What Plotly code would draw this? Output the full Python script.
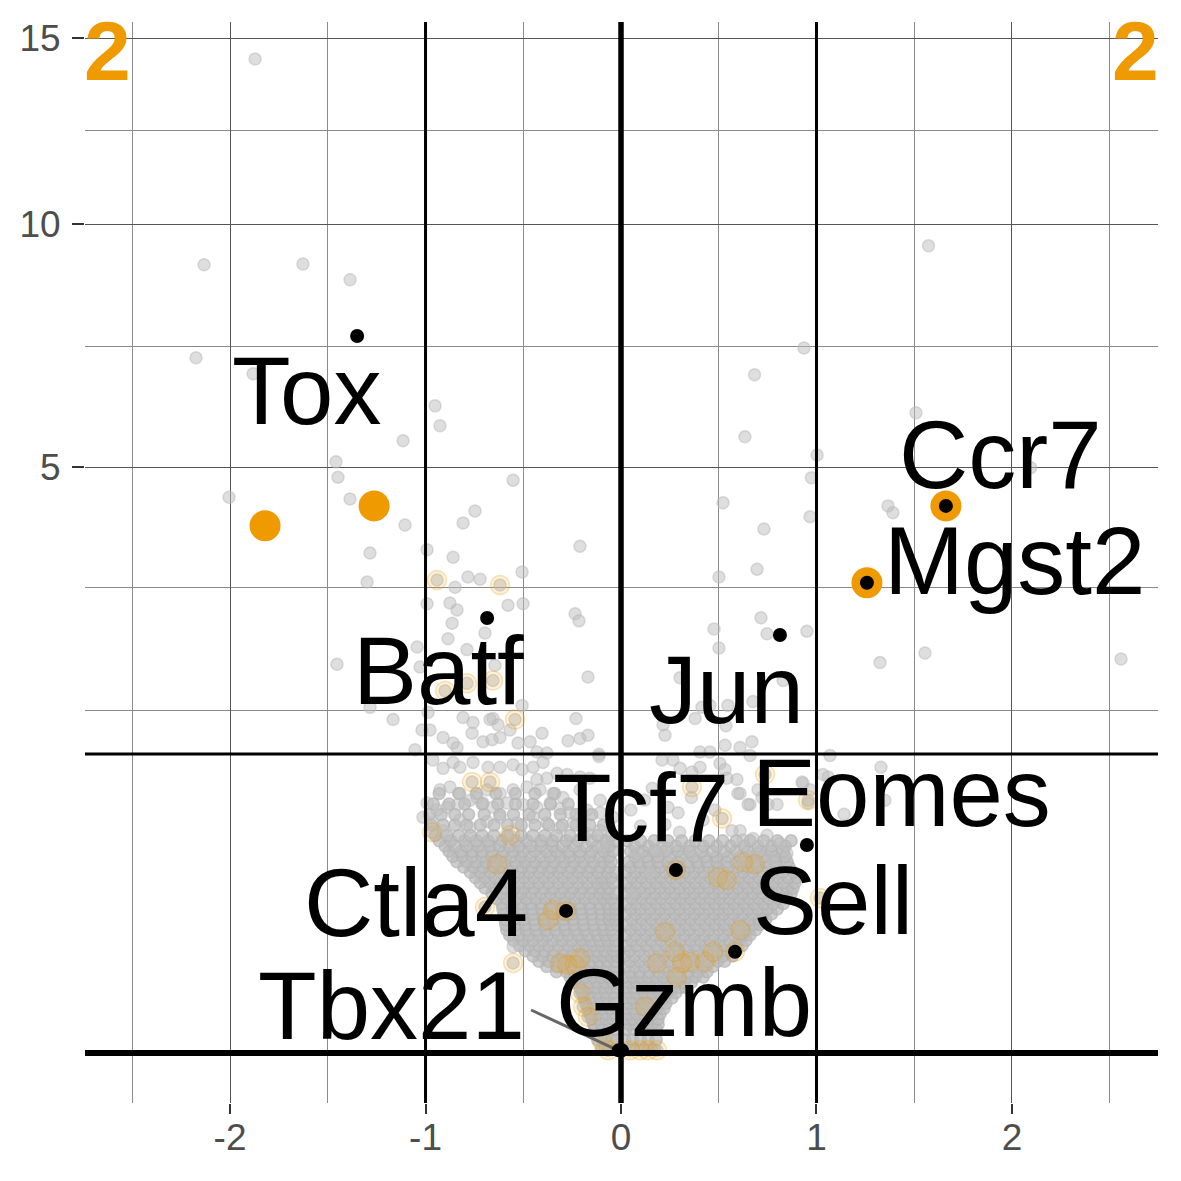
import numpy as np
import plotly.graph_objects as go

# ---------------- data (log2 fold change, -log10 p) ----------------
threshold_nlp = 1.30103

gray_sparse = [
    (-1.872, 14.39), (-2.133, 9.05), (-1.627, 9.07), (-1.386, 8.71), (-2.174, 7.04), (-1.882, 6.72),
    (-0.951, 6.10), (-0.926, 5.73), (-1.115, 5.46), (-1.458, 5.09), (-1.448, 4.83), (-2.005, 4.50),
    (-1.386, 4.47), (-1.105, 4.06), (-0.552, 4.78), (-0.747, 4.28), (-0.808, 4.09), (-1.284, 3.64),
    (-1.299, 3.23), (-0.992, 3.69), (-0.859, 3.58), (-0.210, 3.74), (-0.506, 3.37), (-0.783, 3.30),
    (-0.721, 3.27), (-0.849, 3.16), (-0.992, 2.94), (-0.875, 2.95), (-0.839, 2.86), (-0.578, 2.92),
    (-0.501, 2.94), (-0.235, 2.81), (-0.215, 2.72), (-0.864, 2.69), (-0.696, 2.57), (-0.885, 2.50),
    (-1.043, 2.40), (-1.453, 2.20), (-0.788, 2.37), (-0.645, 2.19), (-0.169, 2.06), (-1.028, 2.17),
    (-1.284, 1.74), (-1.166, 1.62), (-1.018, 1.52), (-0.987, 1.69), (-0.808, 1.64), (-0.757, 1.59),
    (-0.655, 1.63), (-0.506, 1.76), (-0.404, 1.49), (-0.230, 1.63), (-0.271, 1.42), (-0.210, 1.44),
    (-0.169, 1.47), (-0.113, 1.30), (-1.054, 1.34), (-0.910, 1.45), (-0.839, 1.36), (-0.706, 1.41),
    (-0.619, 1.45), (-0.465, 1.41), (-0.430, 1.32), (-0.379, 1.31), (-0.977, 1.52), (-0.762, 1.49),
    (-0.670, 1.62), (-0.629, 1.57), (-0.660, 1.43), (-0.568, 1.52), (-0.859, 1.40), (-0.527, 1.40),
    (-0.113, 1.28),
    (-0.962, 1.25), (-0.910, 1.18), (-0.859, 1.23), (-0.824, 1.19), (-0.757, 1.23), (-0.680, 1.19),
    (-0.619, 1.19), (-0.552, 1.21), (-0.506, 1.17), (-0.450, 1.19), (-0.399, 1.23), (-0.430, 1.09),
    (-0.379, 1.10), (-0.327, 1.14), (-0.276, 1.13), (-0.210, 1.11), (-0.159, 1.10),
    (-0.926, 1.01), (-0.875, 1.03), (-0.824, 0.98), (-0.737, 0.95), (-0.685, 1.01), (-0.619, 0.98),
    (-0.552, 1.01), (-0.481, 1.03), (-0.414, 1.01), (-0.348, 0.98), (-0.297, 0.95), (-0.210, 1.01),
    (-0.107, 0.93),
    (-0.992, 0.91), (-0.941, 0.86), (-0.890, 0.88), (-0.834, 0.90), (-0.772, 0.93), (-0.706, 0.91),
    (-0.655, 0.88), (-0.583, 0.91), (-0.501, 0.90), (-0.430, 0.88), (-0.363, 0.91), (-0.312, 0.87),
    (-0.261, 0.84), (-0.174, 0.86), (-0.107, 0.84), (-0.041, 0.81),
    (-1.013, 0.81), (-0.962, 0.77), (-0.910, 0.72), (-0.824, 0.79), (-0.772, 0.74), (-0.685, 0.78),
    (-0.619, 0.81), (-0.532, 0.77), (-0.450, 0.81), (-0.379, 0.77), (-0.312, 0.74), (-0.246, 0.77),
    (-0.174, 0.70), (-0.107, 0.72), (-0.072, 0.64), (-0.092, 0.62), (-0.552, 0.164),
    (1.573, 9.49), (0.936, 7.24), (0.683, 6.70), (1.509, 5.97), (0.634, 5.53), (1.003, 5.21),
    (0.974, 4.82), (2.096, 4.99), (0.522, 4.41), (1.366, 4.36), (1.391, 4.25), (0.967, 4.19),
    (0.731, 4.00), (0.696, 3.41), (0.501, 3.30), (0.716, 2.76), (0.476, 2.62), (0.747, 2.56),
    (0.951, 2.59), (0.501, 2.39), (1.555, 2.33), (1.325, 2.22), (2.558, 2.26),
    (0.302, 2.05), (0.829, 2.02), (0.675, 1.80), (0.414, 1.74), (0.547, 1.76), (0.455, 1.76),
    (0.379, 1.63), (0.215, 1.57), (0.225, 1.47), (0.537, 1.56), (0.670, 1.41), (0.609, 1.36),
    (0.532, 1.38), (0.404, 1.32), (0.455, 1.32), (1.069, 1.29), (0.210, 1.25), (0.266, 1.25),
    (0.302, 1.18), (0.363, 1.15), (0.404, 1.19), (0.506, 1.22), (0.532, 1.17), (0.542, 1.10),
    (0.593, 1.09), (0.660, 1.29), (0.598, 0.98), (0.660, 0.90), (0.752, 0.90), (0.798, 0.90),
    (0.701, 1.01), (0.721, 0.95), (0.931, 1.06), (0.967, 1.01), (0.957, 0.91), (1.059, 1.11),
    (0.240, 0.88), (0.292, 0.84), (0.225, 0.76), (1.141, 0.83), (1.350, 0.93), (1.330, 1.19),
    (1.033, 1.13), (0.926, 1.07), (0.609, 0.98), (0.650, 0.90),
    (0.609, 0.72), (0.675, 0.67), (0.747, 0.69), (0.813, 0.64), (0.849, 0.58), (0.777, 0.54),
    (0.696, 0.58), (0.624, 0.66), (0.568, 0.72), (0.087, 0.58), (0.184, 0.59), (0.353, 0.59),
    (0.174, 0.60), (0.235, 0.61), (0.148, 0.47), (0.061, 0.37), (0.12, 0.93), (0.05, 0.86),
    (0.16, 1.02), (0.10, 0.75), (0.42, 0.79), (0.48, 0.86), (0.36, 0.95), (0.30, 0.71),
]

# dense centre of the volcano: (-log10 p, [log2FC ...]) read row by row
gray_cluster_left = [
    (0.0002, [-0.10, -0.065, -0.03]),
    (0.0025, [-0.12, -0.085, -0.05, -0.02]),
    (0.0081, [-0.135, -0.10, -0.062, -0.03]),
    (0.0121, [-0.14, -0.10, -0.06, -0.02]),
    (0.0169, [-0.15, -0.11, -0.077, -0.04]),
    (0.0225, [-0.16, -0.12, -0.08, -0.04]),
    (0.0289, [-0.17, -0.13, -0.09, -0.055, -0.02]),
    (0.0361, [-0.18, -0.14, -0.10, -0.06, -0.03]),
    (0.0441, [-0.19, -0.15, -0.11, -0.072, -0.035]),
    (0.0529, [-0.20, -0.16, -0.12, -0.08, -0.04]),
    (0.0625, [-0.21, -0.17, -0.13, -0.09, -0.055, -0.02]),
    (0.0729, [-0.24, -0.20, -0.16, -0.12, -0.08, -0.04]),
    (0.0841, [-0.26, -0.22, -0.18, -0.14, -0.10, -0.06, -0.03]),
    (0.0961, [-0.33, -0.28, -0.24, -0.20, -0.16, -0.12, -0.08, -0.04]),
    (0.1089, [-0.38, -0.33, -0.285, -0.23, -0.19, -0.15, -0.11, -0.07, -0.03]),
    (0.1225, [-0.42, -0.37, -0.32, -0.27, -0.23, -0.19, -0.15, -0.11, -0.07, -0.03]),
    (0.1369, [-0.45, -0.40, -0.35, -0.30, -0.255, -0.21, -0.17, -0.13, -0.09, -0.05, -0.02]),
    (0.1521, [-0.49, -0.44, -0.39, -0.34, -0.29, -0.245, -0.20, -0.16, -0.12, -0.08, -0.04]),
    (0.1681, [-0.52, -0.47, -0.42, -0.37, -0.32, -0.27, -0.22, -0.18, -0.14, -0.10, -0.06, -0.03]),
    (0.1849, [-0.55, -0.50, -0.45, -0.40, -0.35, -0.30, -0.25, -0.20, -0.155, -0.11, -0.07, -0.03]),
    (0.2025, [-0.57, -0.52, -0.47, -0.42, -0.375, -0.32, -0.27, -0.22, -0.17, -0.12, -0.08, -0.04]),
    (0.2209, [-0.585, -0.535, -0.485, -0.435, -0.385, -0.335, -0.285, -0.235, -0.185, -0.135, -0.09, -0.05]),
    (0.2401, [-0.59, -0.54, -0.49, -0.44, -0.39, -0.34, -0.29, -0.24, -0.19, -0.14, -0.09, -0.05, -0.02]),
    (0.2601, [-0.595, -0.545, -0.495, -0.445, -0.395, -0.345, -0.295, -0.245, -0.195, -0.145, -0.10, -0.06, -0.03]),
    (0.2809, [-0.60, -0.55, -0.505, -0.45, -0.40, -0.35, -0.30, -0.25, -0.20, -0.15, -0.10, -0.06, -0.03]),
    (0.3025, [-0.605, -0.555, -0.505, -0.455, -0.405, -0.355, -0.305, -0.255, -0.205, -0.155, -0.105, -0.06, -0.03]),
    (0.3249, [-0.61, -0.56, -0.51, -0.46, -0.41, -0.36, -0.31, -0.26, -0.21, -0.16, -0.11, -0.07, -0.03]),
    (0.3481, [-0.635, -0.585, -0.535, -0.485, -0.435, -0.385, -0.335, -0.285, -0.235, -0.185, -0.135, -0.09, -0.05]),
    (0.3721, [-0.66, -0.61, -0.56, -0.51, -0.46, -0.41, -0.36, -0.31, -0.26, -0.21, -0.16, -0.11, -0.07, -0.03]),
    (0.3969, [-0.695, -0.645, -0.595, -0.545, -0.495, -0.445, -0.395, -0.345, -0.295, -0.245, -0.195, -0.145, -0.10, -0.06]),
    (0.4225, [-0.72, -0.67, -0.62, -0.57, -0.52, -0.47, -0.42, -0.37, -0.32, -0.27, -0.22, -0.17, -0.12, -0.08, -0.04]),
    (0.4489, [-0.745, -0.695, -0.645, -0.595, -0.545, -0.495, -0.445, -0.395, -0.345, -0.295, -0.245, -0.195, -0.145, -0.10, -0.05]),
    (0.4761, [-0.77, -0.72, -0.67, -0.62, -0.57, -0.52, -0.47, -0.42, -0.37, -0.32, -0.27, -0.22, -0.17, -0.12, -0.07, -0.03]),
    (0.5041, [-0.805, -0.755, -0.705, -0.655, -0.605, -0.555, -0.505, -0.455, -0.405, -0.355, -0.305, -0.255, -0.205, -0.155, -0.105, -0.06]),
    (0.5329, [-0.84, -0.79, -0.74, -0.69, -0.64, -0.59, -0.54, -0.49, -0.44, -0.39, -0.34, -0.29, -0.24, -0.19, -0.14, -0.09, -0.05]),
    (0.5625, [-0.86, -0.81, -0.76, -0.71, -0.66, -0.61, -0.56, -0.51, -0.46, -0.41, -0.36, -0.31, -0.26, -0.21, -0.16, -0.11, -0.06]),
    (0.5929, [-0.88, -0.82, -0.76, -0.71, -0.66, -0.60, -0.55, -0.50, -0.44, -0.38, -0.33, -0.27, -0.21, -0.15, -0.09, -0.04]),
    (0.6241, [-0.90, -0.85, -0.79, -0.73, -0.67, -0.62, -0.57, -0.52, -0.46, -0.41, -0.35, -0.30, -0.24, -0.18, -0.12, -0.06]),
    (0.6561, [-0.93, -0.87, -0.80, -0.74, -0.68, -0.61, -0.54, -0.48, -0.41, -0.35, -0.28, -0.22, -0.15, -0.08, -0.03]),
    (0.6889, [-0.95, -0.89, -0.83, -0.77, -0.71, -0.65, -0.58, -0.51, -0.45, -0.39, -0.33, -0.26, -0.19, -0.12, -0.05]),
    (0.7569, [-0.97, -0.91, -0.85, -0.79, -0.72, -0.65, -0.58, -0.51, -0.44, -0.37, -0.30, -0.23, -0.16, -0.09]),
    (0.8281, [-0.98, -0.92, -0.85, -0.78, -0.70, -0.62, -0.55, -0.47, -0.39, -0.31, -0.23, -0.15]),
    (0.9025, [-0.96, -0.88, -0.80, -0.71, -0.63, -0.54, -0.45, -0.36, -0.27]),
    (0.9800, [-0.93, -0.83, -0.74, -0.64, -0.54, -0.44, -0.34]),
]

gray_cluster_right = [
    (0.0002, [0.02, 0.06, 0.10, 0.14, 0.17]),
    (0.0025, [0.02, 0.06, 0.10, 0.14, 0.18]),
    (0.0081, [0.025, 0.065, 0.105, 0.145, 0.18]),
    (0.0121, [0.04, 0.08, 0.12, 0.16, 0.19]),
    (0.0169, [0.02, 0.06, 0.10, 0.14, 0.19]),
    (0.0225, [0.04, 0.08, 0.12, 0.16, 0.20]),
    (0.0289, [0.025, 0.065, 0.105, 0.145, 0.185, 0.22]),
    (0.0361, [0.04, 0.08, 0.12, 0.16, 0.20, 0.23]),
    (0.0441, [0.02, 0.06, 0.10, 0.14, 0.18, 0.22, 0.26]),
    (0.0529, [0.04, 0.08, 0.12, 0.16, 0.20, 0.24, 0.28]),
    (0.0625, [0.025, 0.065, 0.105, 0.145, 0.185, 0.225, 0.265, 0.30, 0.33]),
    (0.0729, [0.04, 0.08, 0.12, 0.16, 0.20, 0.24, 0.28, 0.32, 0.36]),
    (0.0841, [0.02, 0.06, 0.10, 0.14, 0.18, 0.22, 0.26, 0.30, 0.34, 0.38, 0.42]),
    (0.0961, [0.045, 0.095, 0.145, 0.195, 0.245, 0.295, 0.345, 0.395, 0.44]),
    (0.1089, [0.025, 0.07, 0.12, 0.17, 0.22, 0.27, 0.32, 0.37, 0.42, 0.47]),
    (0.1225, [0.045, 0.095, 0.145, 0.195, 0.245, 0.295, 0.345, 0.395, 0.445, 0.495, 0.53]),
    (0.1369, [0.02, 0.07, 0.12, 0.17, 0.22, 0.27, 0.32, 0.37, 0.42, 0.47, 0.52, 0.57]),
    (0.1521, [0.045, 0.095, 0.145, 0.195, 0.245, 0.295, 0.345, 0.395, 0.445, 0.495, 0.545, 0.59]),
    (0.1681, [0.03, 0.08, 0.13, 0.18, 0.23, 0.28, 0.33, 0.38, 0.43, 0.48, 0.53, 0.58, 0.62]),
    (0.1849, [0.055, 0.105, 0.155, 0.205, 0.255, 0.305, 0.355, 0.405, 0.455, 0.505, 0.555, 0.605, 0.64]),
    (0.2025, [0.025, 0.075, 0.125, 0.175, 0.225, 0.275, 0.325, 0.375, 0.425, 0.475, 0.525, 0.575, 0.625, 0.66]),
    (0.2209, [0.05, 0.10, 0.15, 0.20, 0.25, 0.30, 0.35, 0.40, 0.45, 0.50, 0.55, 0.60, 0.65, 0.69]),
    (0.2401, [0.03, 0.08, 0.13, 0.18, 0.23, 0.28, 0.33, 0.38, 0.43, 0.48, 0.53, 0.58, 0.63, 0.68, 0.71]),
    (0.2601, [0.055, 0.105, 0.155, 0.205, 0.255, 0.305, 0.355, 0.405, 0.455, 0.505, 0.555, 0.605, 0.655, 0.705, 0.74]),
    (0.2809, [0.025, 0.075, 0.125, 0.175, 0.225, 0.275, 0.325, 0.375, 0.425, 0.475, 0.525, 0.575, 0.625, 0.675, 0.725, 0.77]),
    (0.3025, [0.05, 0.10, 0.15, 0.20, 0.25, 0.30, 0.35, 0.40, 0.45, 0.50, 0.55, 0.60, 0.65, 0.70, 0.75, 0.80]),
    (0.3249, [0.03, 0.08, 0.13, 0.18, 0.23, 0.28, 0.33, 0.38, 0.43, 0.48, 0.53, 0.58, 0.63, 0.68, 0.73, 0.78, 0.83]),
    (0.3481, [0.055, 0.105, 0.155, 0.205, 0.255, 0.305, 0.355, 0.405, 0.455, 0.505, 0.555, 0.605, 0.655, 0.705, 0.755, 0.805, 0.85]),
    (0.3721, [0.025, 0.075, 0.125, 0.175, 0.225, 0.275, 0.325, 0.375, 0.425, 0.475, 0.525, 0.575, 0.625, 0.675, 0.725, 0.775, 0.825, 0.87]),
    (0.3969, [0.05, 0.10, 0.15, 0.20, 0.25, 0.30, 0.35, 0.40, 0.45, 0.50, 0.55, 0.60, 0.65, 0.70, 0.75, 0.80, 0.85, 0.88]),
    (0.4225, [0.03, 0.08, 0.13, 0.18, 0.23, 0.28, 0.33, 0.38, 0.43, 0.48, 0.53, 0.58, 0.63, 0.68, 0.73, 0.78, 0.83, 0.89]),
    (0.4489, [0.055, 0.105, 0.155, 0.205, 0.255, 0.305, 0.355, 0.405, 0.455, 0.505, 0.555, 0.605, 0.655, 0.705, 0.755, 0.805, 0.855, 0.90]),
    (0.4761, [0.025, 0.075, 0.125, 0.175, 0.225, 0.275, 0.325, 0.375, 0.425, 0.475, 0.525, 0.575, 0.625, 0.675, 0.725, 0.775, 0.825, 0.88]),
    (0.5041, [0.05, 0.10, 0.15, 0.20, 0.25, 0.30, 0.35, 0.40, 0.45, 0.50, 0.55, 0.60, 0.65, 0.70, 0.75, 0.80, 0.86]),
    (0.5329, [0.04, 0.09, 0.14, 0.19, 0.24, 0.29, 0.34, 0.39, 0.44, 0.49, 0.54, 0.59, 0.64, 0.69, 0.74, 0.79, 0.85]),
    (0.5625, [0.07, 0.13, 0.19, 0.25, 0.31, 0.37, 0.43, 0.49, 0.55, 0.61, 0.67, 0.73, 0.79, 0.84]),
    (0.5929, [0.05, 0.11, 0.17, 0.23, 0.29, 0.35, 0.41, 0.47, 0.53, 0.59, 0.65, 0.71, 0.77, 0.83]),
    (0.6241, [0.07, 0.14, 0.21, 0.28, 0.35, 0.42, 0.49, 0.56, 0.63, 0.70, 0.77, 0.84]),
    (0.6561, [0.03, 0.10, 0.17, 0.24, 0.31, 0.38, 0.45, 0.52, 0.59, 0.66, 0.73, 0.80, 0.87]),
]

orange_faint = [
    (-0.941, 3.26), (-0.619, 3.19), (-0.788, 1.99), (-0.655, 2.02), (-0.900, 1.91), (-0.542, 1.62),
    (-0.762, 1.07), (-0.670, 1.07), (-0.967, 0.71), (-0.568, 0.69), (-0.634, 0.52), (-0.696, 0.31),
    (-0.348, 0.298), (-0.373, 0.258), (-0.552, 0.118), (-0.312, 0.118), (-0.276, 0.113), (-0.210, 0.131),
    (-0.235, 0.113), (-0.210, 0.052), (-0.194, 0.031), (-0.169, 0.019), (-0.092, 0.0015), (-0.281, 0.294),
    (0.363, 1.03), (0.517, 0.80), (0.737, 1.13), (0.957, 0.93), (0.624, 0.53), (0.685, 0.52),
    (0.496, 0.45), (0.281, 0.488), (0.225, 0.213), (0.276, 0.149), (0.312, 0.118), (0.353, 0.121),
    (0.430, 0.121), (0.471, 0.149), (0.609, 0.22), (0.184, 0.118), (0.286, 0.084), (0.123, 0.031),
    (0.138, 0.0001), (0.184, 0.0001), (0.542, 0.436), (1.018, 0.35), (0.583, 0.149),
    (-0.066, 0.0001), (0.046, 0.0001), (0.097, 0.0001),
]

orange_big_lfc = [-1.821, -1.263, 1.662, 1.258]
orange_big_nlp = [4.05, 4.36, 4.36, 3.22]

label_genes = ["Tox", "Ccr7", "Mgst2", "Batf", "Jun", "Tcf7", "Eomes", "Ctla4", "Sell", "Tbx21", "Gzmb"]
label_lfc = [-1.350, 1.662, 1.258, -0.685, 0.813, 0.281, 0.951, -0.281, 0.583, -0.012, 0.005]
label_nlp = [7.49, 4.36, 3.22, 2.757, 2.545, 0.488, 0.630, 0.294, 0.149, 0.0001, 0.0001]
label_text_lfc = [-1.611, 1.939, 2.015, -0.936, 0.542, 0.102, 1.437, -1.049, 1.084, -1.176, 0.322]
label_text_nlp = [6.40, 5.21, 3.54, 2.13, 1.92, 0.875, 0.985, 0.328, 0.337, 0.0322, 0.0364]

tbx21_segment_lfc = [-0.460, -0.015]
tbx21_segment_nlp = [0.0269, 0.0001]

y_tick_values = [5, 10, 15]
x_tick_values = [-2, -1, 0, 1, 2]
corner_label = "2"

# ---------------- build ----------------
gx, gy = [], []
for x, y in gray_sparse:
    gx.append(x); gy.append(y)
for x, y in orange_faint:
    gx.append(x); gy.append(y)
cx, cy = [], []
for rows in (gray_cluster_left, gray_cluster_right):
    for y, xs in rows:
        for x in xs:
            cx.append(x); cy.append(y)

ofx = [p[0] for p in orange_faint]
ofy = [p[1] for p in orange_faint]

tr = np.sqrt
ORANGE = "#EE9A00"
FONT = "Liberation Sans, Arial, sans-serif"

fig = go.Figure()
fig.add_trace(go.Scatter(
    x=cx, y=tr(np.array(cy)), mode="markers", hoverinfo="skip",
    marker=dict(size=12, color="rgba(187,187,187,0.72)",
                line=dict(color="rgba(178,178,178,0.7)", width=1.5))))
fig.add_trace(go.Scatter(
    x=gx, y=tr(np.array(gy)), mode="markers", hoverinfo="skip",
    marker=dict(size=12, color="rgba(190,190,190,0.5)",
                line=dict(color="rgba(185,185,185,0.5)", width=1.5))))
fig.add_trace(go.Scatter(
    x=ofx, y=tr(np.array(ofy)), mode="markers", hoverinfo="skip",
    marker=dict(size=19, color="rgba(238,154,0,0.13)",
                line=dict(color="rgba(238,154,0,0.28)", width=1.5))))
fig.add_trace(go.Scatter(
    x=tbx21_segment_lfc, y=tr(np.array(tbx21_segment_nlp)), mode="lines", hoverinfo="skip",
    line=dict(color="#666666", width=3)))
fig.add_trace(go.Scatter(
    x=orange_big_lfc, y=tr(np.array(orange_big_nlp)), mode="markers", hoverinfo="skip",
    marker=dict(size=31, color=ORANGE, line=dict(width=0))))
fig.add_trace(go.Scatter(
    x=label_lfc, y=tr(np.array(label_nlp)), mode="markers", hoverinfo="skip",
    marker=dict(size=14, color="black", line=dict(width=0))))

annotations = []
for g, x, y in zip(label_genes, label_text_lfc, label_text_nlp):
    annotations.append(dict(x=x, y=float(tr(y)), xref="x", yref="y", text=g, showarrow=False,
                            xanchor="center", yanchor="middle",
                            font=dict(family=FONT, size=96, color="black")))
annotations.append(dict(x=0, y=1, xref="paper", yref="paper", text=corner_label, showarrow=False,
                        xanchor="left", yanchor="top", yshift=20, xshift=-3,
                        font=dict(family=FONT, size=84, color=ORANGE, weight="bold")))
annotations.append(dict(x=1, y=1, xref="paper", yref="paper", text=corner_label, showarrow=False,
                        xanchor="right", yanchor="top", yshift=20, xshift=3,
                        font=dict(family=FONT, size=84, color=ORANGE, weight="bold")))

shapes = []
for xv, w in ((-1, 3), (1, 3), (0, 5.5)):
    shapes.append(dict(type="line", xref="x", yref="paper", x0=xv, x1=xv, y0=0, y1=1,
                       line=dict(color="black", width=w), layer="above"))
for yv, w in ((float(tr(threshold_nlp)), 3), (0.0, 6)):
    shapes.append(dict(type="line", xref="paper", yref="y", x0=0, x1=1, y0=yv, y1=yv,
                       line=dict(color="black", width=w), layer="above"))

fig.update_layout(
    width=1181, height=1181,
    margin=dict(l=85, r=23, t=22, b=78),
    plot_bgcolor="white", paper_bgcolor="white",
    showlegend=False,
    annotations=annotations, shapes=shapes,
    xaxis=dict(range=[-2.742, 2.747], tickvals=x_tick_values, ticktext=[str(v) for v in x_tick_values],
               ticks="outside", ticklen=10, tickwidth=2, tickcolor="#333333", ticklabelstandoff=-8,
               showgrid=True, gridcolor="#555555", gridwidth=1.2, zeroline=False, showline=False,
               tickfont=dict(family=FONT, size=37, color="#4d4d4d"),
               minor=dict(tickvals=[-2.5, -1.5, -0.5, 0.5, 1.5, 2.5], showgrid=True,
                          gridcolor="#8a8a8a", gridwidth=1, ticks="")),
    yaxis=dict(range=[-0.191, 3.935], tickvals=[float(tr(v)) for v in y_tick_values],
               ticktext=[str(v) for v in y_tick_values],
               ticks="outside", ticklen=12, tickwidth=2, tickcolor="#333333", ticklabelstandoff=4,
               showgrid=True, gridcolor="#555555", gridwidth=1.2, zeroline=False, showline=False,
               tickfont=dict(family=FONT, size=37, color="#4d4d4d"),
               minor=dict(tickvals=[1.309, 1.775, 2.698, 3.519], showgrid=True,
                          gridcolor="#8a8a8a", gridwidth=1, ticks="")),
)

fig.write_html("out.html", config={"displayModeBar": False},
               post_script="document.body.style.margin='0px';document.body.style.overflow='hidden';")
